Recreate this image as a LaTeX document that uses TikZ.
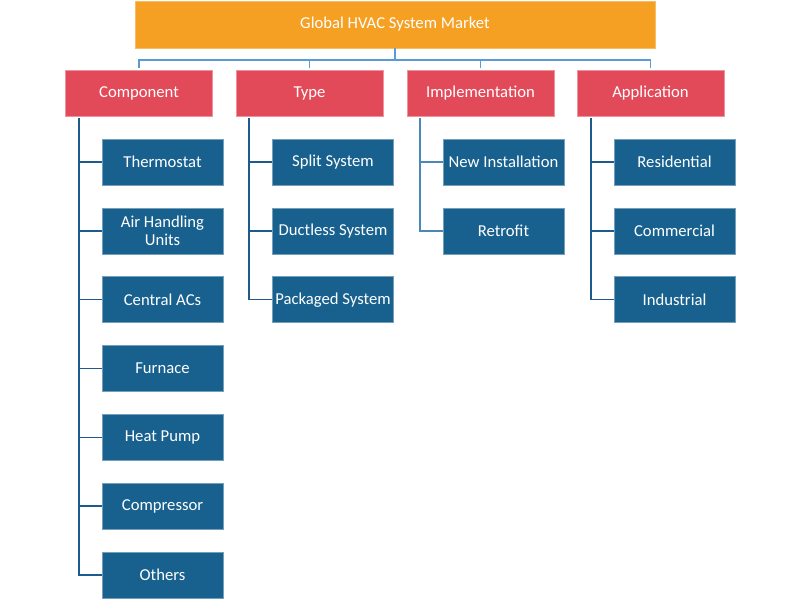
\documentclass[tikz,border=0pt]{standalone}
\usepackage{fontspec}
\setmainfont{Carlito}
\usepackage{tikz}
\usetikzlibrary{positioning}

\definecolor{marketorange}{HTML}{F5A022}
\definecolor{segred}{HTML}{E24A59}
\definecolor{itemblue}{HTML}{18618F}
\definecolor{linkblue}{HTML}{5B9BD5}
\definecolor{trunkblue}{HTML}{1F5A8C}
\definecolor{trunklight}{HTML}{4C88B6}

\def\px{0.75pt}
\tikzset{
  mainbox/.style={fill=marketorange, draw=marketorange!70!white, text=white,
    minimum width=520*\px, minimum height=47*\px, inner sep=0pt},
  segbox/.style={fill=segred, draw=segred!60!white, text=white,
    minimum width=147*\px, minimum height=46*\px, inner sep=0pt},
  itembox/.style={fill=itemblue, draw=itemblue!60!white, text=white, align=center,
    minimum width=121*\px, minimum height=46*\px, inner sep=0pt},
  link/.style={draw=linkblue, line width=1.2pt},
  trunk/.style={draw=trunkblue, line width=1.2pt}
}

\begin{document}
\begin{tikzpicture}[x=\px, y=-\px, font=\fontsize{12.5}{13.5}\selectfont]
      \useasboundingbox (0,0) rectangle (800,600);

       %draw market box
      \node[mainbox] (market) at (395,24.5) {Global HVAC System Market};

       %draw segment boxes
      \node[segbox] (comp) at (139,93) {Component};
      \node[segbox] (type) at (309.5,93) {Type};
      \node[segbox] (impl) at (480.5,93) {Implementation};
      \node[segbox] (appl) at (650.5,93) {Application};

      % links from market to segments
      \coordinate (bus) at (395,60);
      \draw[link] (market.south) -- (bus);
      \foreach \s in {comp,type,impl,appl} {%
        \draw[link, shorten >=2*\px] (bus) -| (\s.north);
      }

       %draw items
      \foreach \n/\t [count=\k] in {Thermostat/Thermostat, ahu/{Air Handling\\Units},
          cac/Central ACs, Furnace/Furnace, hp/Heat Pump, Compressor/Compressor, Others/Others} {%
        \node[itembox] (comp-\k) at (162.5,{162+68.83*(\k-1)}) {\t};
      }
      \foreach \t [count=\k] in {Split System, Ductless System, Packaged System} {%
        \node[itembox] (type-\k) at (333,{162+68.83*(\k-1)}) {\t};
      }
      \foreach \t [count=\k] in {New Installation, Retrofit} {%
        \node[itembox] (impl-\k) at (503.5,{162+68.83*(\k-1)}) {\t};
      }
      \foreach \t [count=\k] in {Residential, Commercial, Industrial} {%
        \node[itembox] (appl-\k) at (674.5,{162+68.83*(\k-1)}) {\t};
      }

      % draw trunks
      \coordinate (comp-top) at (79,118);
      \coordinate (type-top) at (249,118);
      \coordinate (impl-top) at (420,118);
      \coordinate (appl-top) at (591,118);
      \foreach \s/\m/\c in {comp/7/trunkblue, type/3/trunkblue, impl/2/trunklight, appl/3/trunkblue} {%
        \draw[trunk, draw=\c] (\s-top) |- (\s-\m.west);
        \foreach \k in {1,...,\m} {%
          \draw[trunk, draw=\c] (\s-top |- \s-\k.west) -- (\s-\k.west);
        }
      }
\end{tikzpicture}
\end{document}
